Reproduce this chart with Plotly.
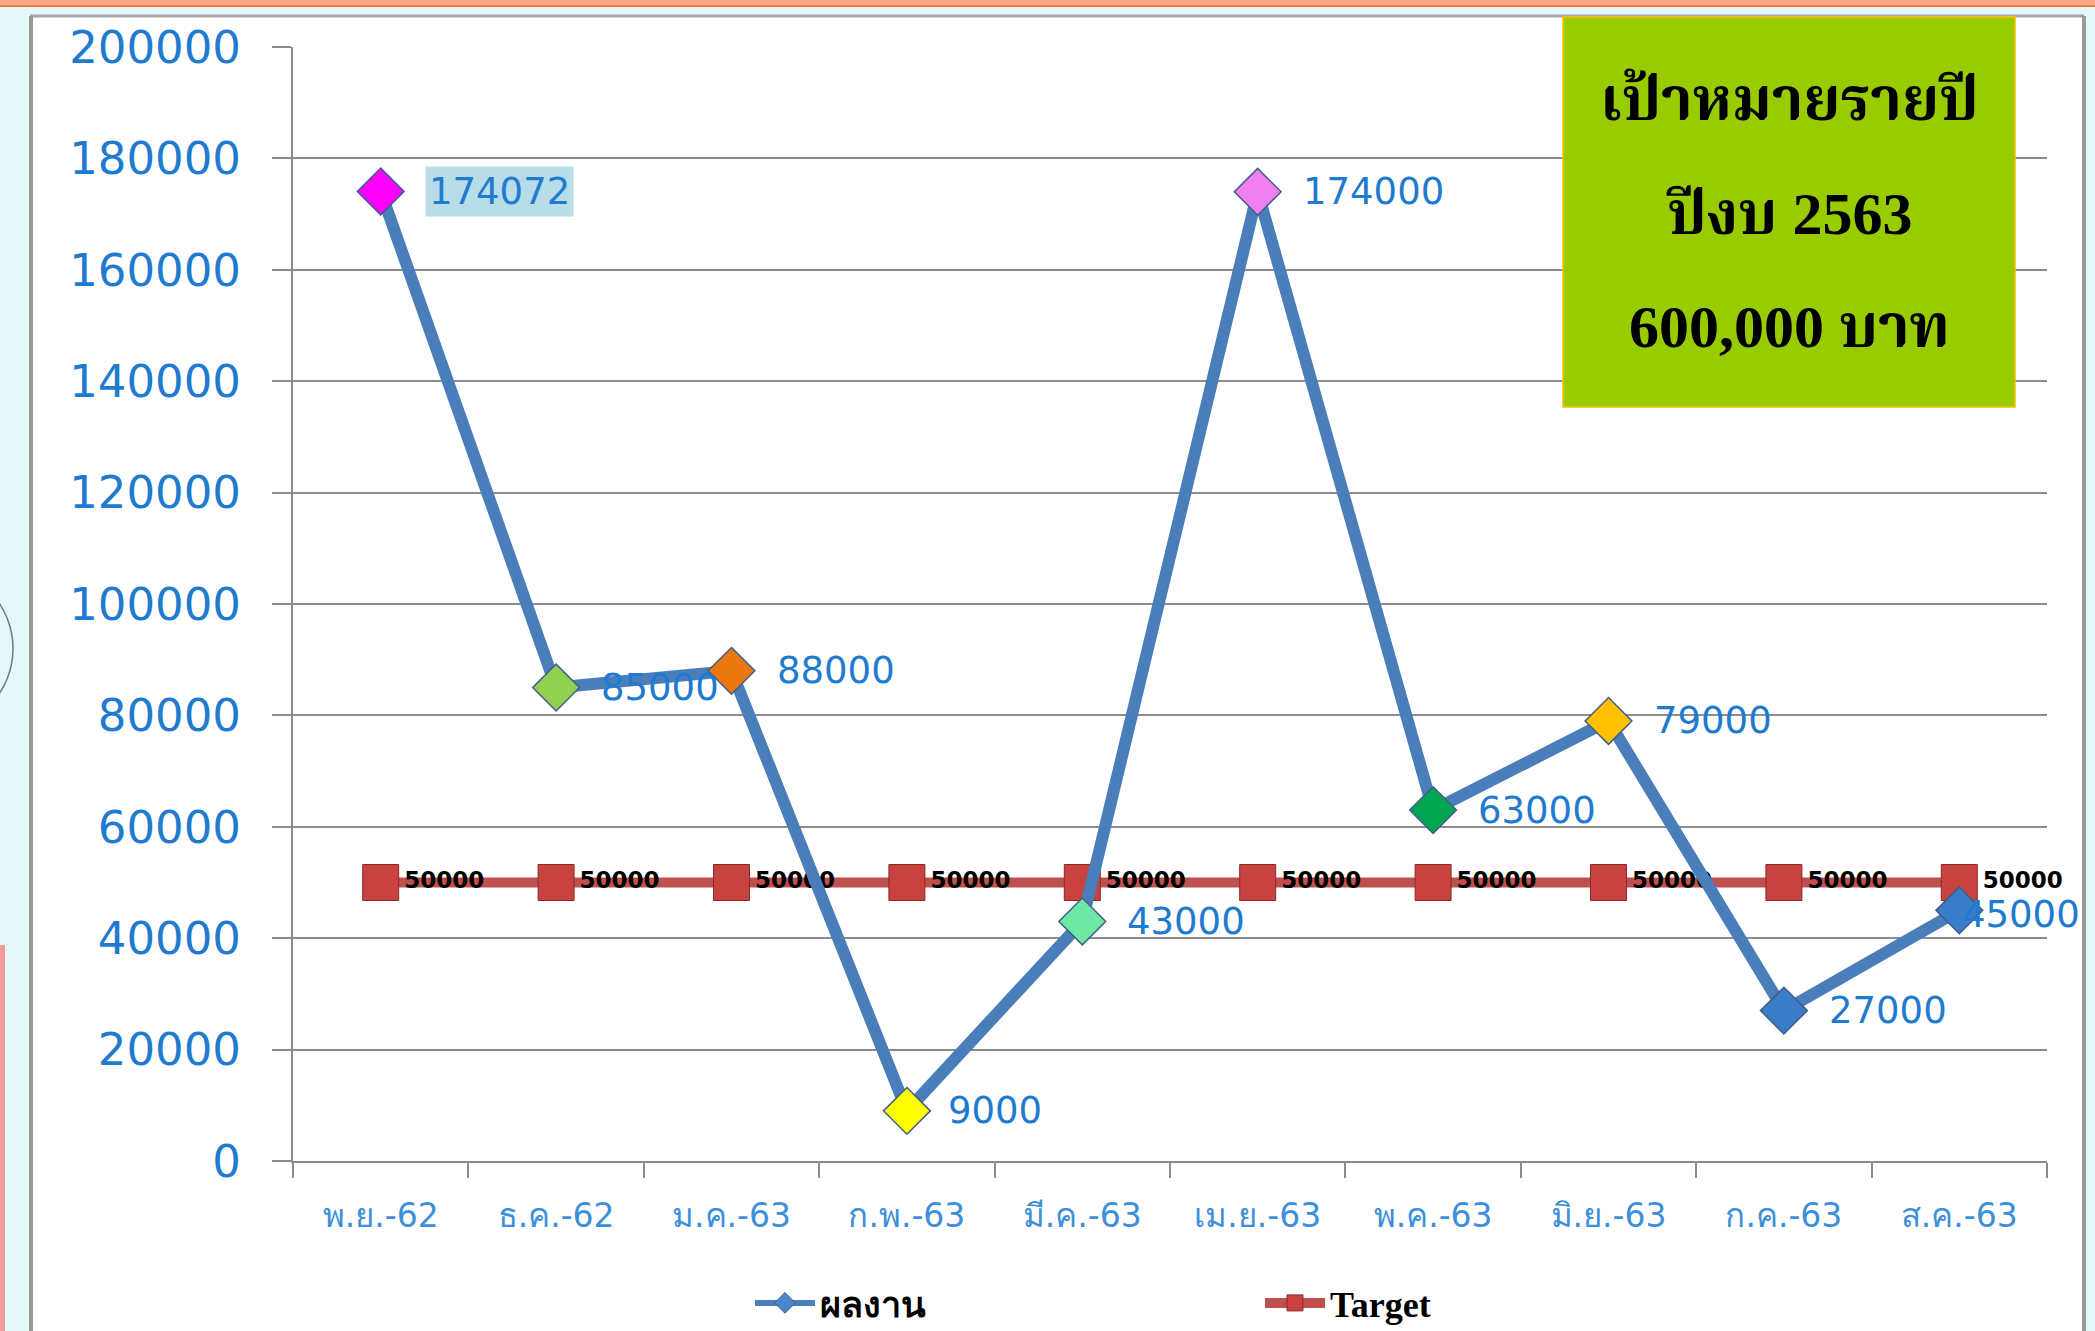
import plotly.graph_objects as go

# ---------------- data ----------------
months = ["พ.ย.-62", "ธ.ค.-62", "ม.ค.-63", "ก.พ.-63", "มี.ค.-63",
          "เม.ย.-63", "พ.ค.-63", "มิ.ย.-63", "ก.ค.-63", "ส.ค.-63"]
result_values = [174072, 85000, 88000, 9000, 43000, 174000, 63000, 79000, 27000, 45000]
target_values = [50000, 50000, 50000, 50000, 50000, 50000, 50000, 50000, 50000, 50000]
series_names = ["ผลงาน", "Target"]
y_ticks = [0, 20000, 40000, 60000, 80000, 100000, 120000, 140000, 160000, 180000, 200000]
box_lines = ["เป้าหมายรายปี", "ปีงบ 2563", "600,000 บาท"]

# ---------------- style ----------------
W, H = 2095, 1331
L, R, T, B = 293, 2047, 47, 1161          # plot area in pixels
marker_colors = ["#ff00ff", "#92d050", "#e8780f", "#ffff00", "#6ee8a4",
                 "#f080f0", "#00a550", "#ffc000", "#3a7cc8", "#3a7cc8"]
label_xshift = [44, 44, 44, 40, 44, 44, 44, 44, 44, 2]
label_yshift = [0, 0, 0, 0, 0, 0, 0, 0, 0, -4]
label_bg = ["#b7dde8"] + ["rgba(0,0,0,0)"] * 9
label_pad = [3] + [0] * 9
blue_txt = "#1f7bd0"


def px(x):
    return (x - L) / (R - L)


def py(y):
    return (B - y) / (B - T)


fig = go.Figure()

fig.add_trace(go.Scatter(
    x=months, y=target_values, name=series_names[1], mode="lines+markers+text",
    line=dict(color="#c0504d", width=10),
    marker=dict(symbol="square", size=36, color="#c8423f",
                line=dict(color="#8c2a28", width=1)),
    text=[str(v) for v in target_values], textposition="middle right",
    textfont=dict(family="DejaVu Sans", size=23, color="#000000", weight="bold"),
    cliponaxis=False,
))

fig.add_trace(go.Scatter(
    x=months, y=result_values, name=series_names[0], mode="lines+markers",
    line=dict(color="#4a7ebb", width=12),
    marker=dict(symbol="diamond", size=36, color=marker_colors,
                line=dict(color="#3f5f88", width=1.5)),
    cliponaxis=False, showlegend=False,
))

# legend entry for the result series (uniform blue symbol as in the reference legend)
fig.add_trace(go.Scatter(
    x=[None], y=[None], name=series_names[0], mode="lines+markers",
    line=dict(color="#4a7ebb", width=6),
    marker=dict(symbol="diamond", size=16, color="#4a86c8",
                line=dict(color="#3f5f88", width=1)),
))

annotations = []
for i, (m, v) in enumerate(zip(months, result_values)):
    annotations.append(dict(
        x=m, y=v, xref="x", yref="y", text=str(v), showarrow=False,
        xanchor="left", yanchor="middle", xshift=label_xshift[i], yshift=label_yshift[i],
        font=dict(family="DejaVu Sans", size=37, color=blue_txt),
        bgcolor=label_bg[i], borderpad=label_pad[i],
    ))

box_y = [100, 214, 327]
for line, yy in zip(box_lines, box_y):
    annotations.append(dict(
        x=px(1789), y=py(yy), xref="paper", yref="paper", text=line,
        showarrow=False, xanchor="center", yanchor="middle",
        font=dict(family="Liberation Serif, Noto Serif Thai, serif", size=60,
                  color="#000000", weight="bold"),
    ))

shapes = [
    # window frame
    dict(type="rect", xref="paper", yref="paper", x0=px(0), x1=px(W), y0=py(0), y1=py(7),
         fillcolor="#f8a884", line=dict(width=0), layer="below"),
    dict(type="line", xref="paper", yref="paper", x0=px(0), x1=px(W), y0=py(6), y1=py(6),
         line=dict(color="#f07b3c", width=2), layer="below"),
    dict(type="rect", xref="paper", yref="paper", x0=px(0), x1=px(W), y0=py(7), y1=py(15),
         fillcolor="#e4f8fa", line=dict(width=0), layer="below"),
    dict(type="line", xref="paper", yref="paper", x0=px(30), x1=px(2084), y0=py(16), y1=py(16),
         line=dict(color="#a8a8a8", width=3), layer="below"),
    dict(type="rect", xref="paper", yref="paper", x0=px(0), x1=px(29), y0=py(7), y1=py(H),
         fillcolor="#e4f8fa", line=dict(width=0), layer="below"),
    dict(type="rect", xref="paper", yref="paper", x0=px(0), x1=px(5), y0=py(945), y1=py(H),
         fillcolor="#f59b9b", line=dict(width=0), layer="below"),
    dict(type="line", xref="paper", yref="paper", x0=px(31), x1=px(31), y0=py(16), y1=py(H),
         line=dict(color="#9a9a9a", width=4), layer="below"),
    dict(type="rect", xref="paper", yref="paper", x0=px(2086), x1=px(W), y0=py(7), y1=py(H),
         fillcolor="#e4f8fa", line=dict(width=0), layer="below"),
    dict(type="line", xref="paper", yref="paper", x0=px(2084), x1=px(2084), y0=py(16), y1=py(H),
         line=dict(color="#9a9a9a", width=4), layer="below"),
    dict(type="circle", xref="paper", yref="paper", x0=px(-150), x1=px(13),
         y0=py(567), y1=py(730), line=dict(color="#777777", width=1.5), layer="below"),
    # green target box
    dict(type="rect", xref="paper", yref="paper", x0=px(1563), x1=px(2015),
         y0=py(17), y1=py(407), fillcolor="#99cc00",
         line=dict(color="#ffc000", width=1.5), layer="above"),
]

fig.update_layout(
    width=W, height=H,
    margin=dict(l=L, r=W - R, t=T, b=H - B, autoexpand=False),
    paper_bgcolor="#ffffff", plot_bgcolor="#ffffff",
    showlegend=True,
    legend=dict(orientation="h", x=px(750), y=py(1303), xanchor="left", yanchor="middle",
                entrywidth=435, entrywidthmode="pixels", traceorder="reversed",
                itemwidth=60,
                font=dict(family="Liberation Serif, serif", size=36, color="#000000",
                          weight="bold"),
                bgcolor="rgba(0,0,0,0)"),
    annotations=annotations,
    shapes=shapes,
    xaxis=dict(
        type="category", range=[-0.5, 9.5], tickson="boundaries",
        showline=True, linecolor="#8c8c8c", linewidth=2,
        ticks="outside", ticklen=15, tickwidth=2, tickcolor="#8c8c8c",
        showgrid=False, ticklabelstandoff=24, automargin=False,
        tickfont=dict(family="DejaVu Sans", size=33, color="#3d8fdb"),
    ),
    yaxis=dict(
        range=[0, 200000], tickvals=y_ticks, ticktext=[str(v) for v in y_ticks],
        showline=True, linecolor="#8c8c8c", linewidth=2,
        ticks="outside", ticklen=19, tickwidth=2, tickcolor="#8c8c8c",
        showgrid=True, gridcolor="#8c8c8c", gridwidth=2, zeroline=False,
        ticklabelstandoff=22, automargin=False,
        tickfont=dict(family="DejaVu Sans", size=45, color=blue_txt),
    ),
)

fig.write_html("out.html", config={"displayModeBar": False},
               post_script="document.body.style.margin='0';document.body.style.overflow='hidden';")
